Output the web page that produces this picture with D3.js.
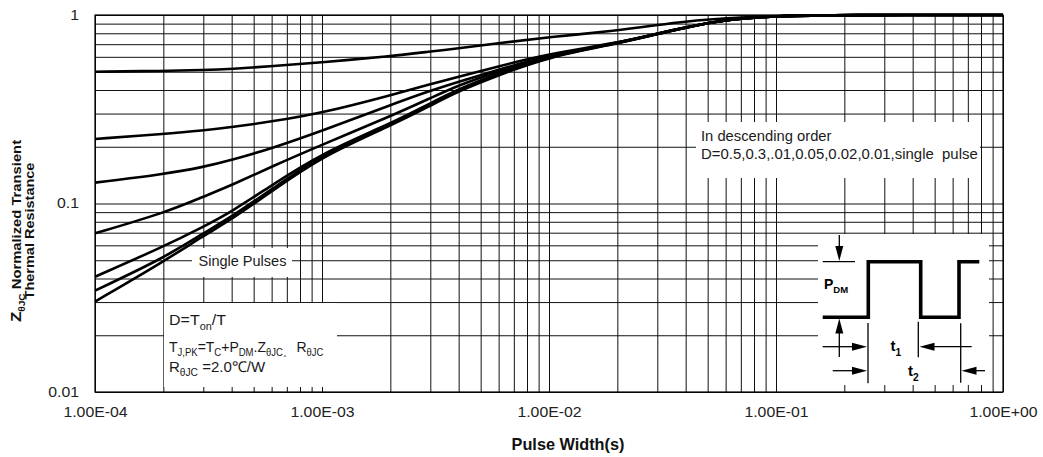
<!DOCTYPE html>
<html>
<head>
<meta charset="utf-8">
<script src="https://cdn.jsdelivr.net/npm/d3@7/dist/d3.min.js"></script>
<style>
  body { margin: 0; background: #fff; }
  svg { display: block; font-family: "Liberation Sans", Arial, sans-serif; }
  text { white-space: pre; }
</style>
</head>
<body>
<svg id="chart" width="1043" height="457"></svg>
<script>
// Pulse widths (s) at which the curves are sampled
const pulseWidth = [1e-4, 2e-4, 3e-4, 4e-4, 6e-4, 1e-3, 2e-3, 3e-3, 4e-3, 6e-3,
                    1e-2, 2e-2, 3e-2, 4e-2, 6e-2, 1e-1, 2e-1, 1];

// Normalized transient thermal resistance for each duty cycle
const zD050  = [0.500, 0.505, 0.510, 0.517, 0.535, 0.560, 0.605, 0.640, 0.665, 0.710, 0.762, 0.828, 0.885, 0.925, 0.962, 0.990, 1.0, 1.0];
const zD030  = [0.220, 0.234, 0.244, 0.254, 0.272, 0.302, 0.375, 0.430, 0.470, 0.535, 0.622, 0.712, 0.797, 0.860, 0.946, 0.990, 1.0, 1.0];
const zD010  = [0.129, 0.143, 0.156, 0.170, 0.196, 0.243, 0.333, 0.397, 0.443, 0.513, 0.612, 0.710, 0.795, 0.860, 0.946, 0.990, 1.0, 1.0];
const zD005  = [0.0695, 0.0887, 0.1087, 0.125, 0.157, 0.205, 0.290, 0.362, 0.425, 0.503, 0.610, 0.710, 0.795, 0.860, 0.946, 0.990, 1.0, 1.0];
const zD002  = [0.0409, 0.0590, 0.0753, 0.0905, 0.125, 0.185, 0.265, 0.340, 0.405, 0.490, 0.607, 0.708, 0.794, 0.859, 0.945, 0.990, 1.0, 1.0];
const zD001  = [0.0345, 0.0512, 0.0695, 0.0851, 0.119, 0.182, 0.262, 0.335, 0.400, 0.485, 0.604, 0.707, 0.793, 0.858, 0.945, 0.990, 1.0, 1.0];
const zSingle = [0.0302, 0.0491, 0.0673, 0.0824, 0.116, 0.178, 0.258, 0.330, 0.395, 0.480, 0.600, 0.705, 0.792, 0.857, 0.945, 0.990, 1.0, 1.0];

const seriesNames = ["D=0.5", "D=0.3", "D=0.1", "D=0.05", "D=0.02", "D=0.01", "Single pulse"];
const seriesValues = [zD050, zD030, zD010, zD005, zD002, zD001, zSingle];

// Axis ticks
const xTickValues = [1e-4, 1e-3, 1e-2, 1e-1, 1];
const xTickLabels = ["1.00E-04", "1.00E-03", "1.00E-02", "1.00E-01", "1.00E+00"];
const yTickValues = [0.01, 0.1, 1];
const yTickLabels = ["0.01", "0.1", "1"];

const svg = d3.select("#chart");
const plot = { left: 95, top: 15, right: 1003, bottom: 392 };

const x = d3.scaleLog().domain([1e-4, 1]).range([plot.left, plot.right]);
const y = d3.scaleLog().domain([0.01, 1]).range([plot.bottom, plot.top]);

// ---- grid (decade + 2..9 minor lines) ----
const grid = svg.append("g").attr("class", "grid");
grid.append("g")
  .attr("transform", `translate(0,${plot.bottom})`)
  .call(d3.axisBottom(x).tickValues(x.ticks()).tickSize(-(plot.bottom - plot.top)).tickFormat(""))
  .call(g => g.select(".domain").remove());
grid.append("g")
  .attr("transform", `translate(${plot.left},0)`)
  .call(d3.axisLeft(y).tickValues(y.ticks()).tickSize(-(plot.right - plot.left)).tickFormat(""))
  .call(g => g.select(".domain").remove());
grid.selectAll("line").attr("stroke", "#111").attr("stroke-width", 1);

// ---- white text panels laid over the grid ----
const panels = svg.append("g");
function panel(x0, y0, x1, y1) {
  panels.append("rect").attr("x", x0).attr("y", y0)
    .attr("width", x1 - x0).attr("height", y1 - y0).attr("fill", "#fff");
}
panel(696, 122, 980, 178);   // legend note
panel(192, 248, 292, 277);   // "Single Pulses"
panel(164, 303, 337, 387);   // formula block
panel(818, 234, 989, 385);   // pulse waveform inset

// ---- plot frame ----
svg.append("rect")
  .attr("x", plot.left).attr("y", plot.top)
  .attr("width", plot.right - plot.left).attr("height", plot.bottom - plot.top)
  .attr("fill", "none").attr("stroke", "#000").attr("stroke-width", 1.2);

// ---- curves ----
const line = d3.line()
  .x((d, i) => x(pulseWidth[i]))
  .y(d => y(d))
  .curve(d3.curveBasis);

svg.append("g").selectAll("path")
  .data(seriesValues)
  .join("path")
  .attr("d", line)
  .attr("fill", "none")
  .attr("stroke", "#000")
  .attr("stroke-width", 2.6)
  .attr("stroke-linejoin", "round")
  .append("title").text((d, i) => seriesNames[i]);

// ---- tick labels ----
const TICK_STRETCH = 1.13;
svg.append("g")
  .attr("transform", `translate(0,${plot.bottom})`)
  .call(d3.axisBottom(x).tickValues(xTickValues).tickSize(0).tickPadding(15)
        .tickFormat((d, i) => xTickLabels[i]))
  .call(g => g.select(".domain").remove())
  .call(g => g.selectAll("text")
        .attr("font-size", 14).attr("fill", "#222")
        .attr("font-family", "Liberation Sans, Arial, sans-serif")
        .attr("transform", `scale(${TICK_STRETCH},1)`));

svg.append("g")
  .attr("transform", `translate(${plot.left},0)`)
  .call(d3.axisLeft(y).tickValues(yTickValues).tickSize(0).tickPadding(14.2)
        .tickFormat((d, i) => yTickLabels[i]))
  .call(g => g.select(".domain").remove())
  .call(g => g.selectAll("text")
        .attr("font-size", 14).attr("fill", "#222")
        .attr("font-family", "Liberation Sans, Arial, sans-serif")
        .attr("transform", `scale(${TICK_STRETCH},1)`));

// ---- rich text helper: parts are [string, "n" | "s"] (normal / subscript) ----
function richText(px, py, parts, opt) {
  const fs = opt.size || 14;
  const g = svg.append("g").attr("transform", `translate(${px},${py}) rotate(${opt.rotate || 0})`);
  const t = g.append("text")
    .attr("text-anchor", opt.anchor || "start")
    .attr("font-size", fs)
    .attr("font-weight", opt.bold ? "bold" : "normal")
    .attr("fill", opt.fill || "#1a1a1a");
  let shift = 0;
  parts.forEach(([s, kind, sizeOverride]) => {
    const sub = kind === "s";
    const target = sub ? fs * 0.3 : 0;
    const ts = t.append("tspan").text(s)
      .attr("font-size", sizeOverride || (sub ? fs * 0.68 : fs));
    if (target !== shift) { ts.attr("dy", target - shift); shift = target; }
  });
  if (opt.width) {
    const w = t.node().getBBox().width;
    if (w > 0) t.attr("transform", `scale(${opt.width / w},1)`);
  }
  return t;
}

// Axis titles
richText(568, 450, [["Pulse Width(s)", "n"]], { size: 16, bold: true, anchor: "middle", width: 113, fill: "#111" });
richText(21, 231, [["Z", "n", 15], ["θJC", "s"], [" Normalized Transient", "n"]],
         { size: 13, bold: true, anchor: "middle", rotate: -90, width: 183, fill: "#111" });
richText(33.5, 231, [["Thermal Resistance", "n"]],
         { size: 13, bold: true, anchor: "middle", rotate: -90, width: 137, fill: "#111" });

// Legend note
richText(701, 141, [["In descending order", "n"]], { size: 14, width: 131 });
richText(701, 159, [["D=0.5,0.3,.01,0.05,0.02,0.01,single  pulse", "n"]], { size: 14, width: 277 });

// Single-pulse callout
richText(198.5, 265.5, [["Single Pulses", "n"]], { size: 14, width: 88 });

// Formula block
richText(169, 325, [["D=T", "n"], ["on", "s"], ["/T", "n"]], { size: 15, width: 57 });
richText(169, 351.5, [["T", "n"], ["J,PK", "s"], ["=T", "n"], ["C", "s"], ["+P", "n"], ["DM", "s"],
                      [".Z", "n"], ["θJC。", "s"], [" R", "n"], ["θJC", "s"]], { size: 15, width: 154 });
richText(169, 371.5, [["R", "n"], ["θJC", "s"], [" =2.0℃/W", "n"]], { size: 15, width: 97 });

// ---- pulse waveform inset ----
const inset = svg.append("g").attr("stroke", "#000").attr("fill", "none");
const wave = [[822.7, 317.3], [868.3, 317.3], [868.3, 261.7], [920.7, 261.7],
              [920.7, 317.3], [959, 317.3], [959, 261.7], [979.3, 261.7]];
inset.append("path").attr("d", d3.line()(wave)).attr("stroke-width", 3.6).attr("stroke-linejoin", "miter");

function seg(x1, y1, x2, y2) {
  inset.append("line").attr("x1", x1).attr("y1", y1).attr("x2", x2).attr("y2", y2).attr("stroke-width", 1.3);
}
function head(tx, ty, dir) {
  // filled arrowhead, tip at (tx,ty), dir: "r","l","u","d"
  const L = 15, W = 4;
  let pts;
  if (dir === "r") pts = [[tx, ty], [tx - L, ty - W], [tx - L, ty + W]];
  if (dir === "l") pts = [[tx, ty], [tx + L, ty - W], [tx + L, ty + W]];
  if (dir === "d") pts = [[tx, ty], [tx - W, ty - L], [tx + W, ty - L]];
  if (dir === "u") pts = [[tx, ty], [tx - W, ty + L], [tx + W, ty + L]];
  inset.append("path").attr("d", d3.line()(pts) + "Z").attr("fill", "#000").attr("stroke", "none");
}

seg(822.7, 261.7, 855, 261.7);          // peak reference
seg(839.3, 235, 839.3, 247); head(839.3, 261, "d");
seg(839.3, 332, 839.3, 357); head(839.3, 318.5, "u");
seg(868, 323, 868, 383.3);
seg(918.3, 321.7, 918.3, 357.3);
seg(960.7, 323.3, 960.7, 382.7);
seg(822.7, 346.7, 853, 346.7); head(867, 346.7, "r");
seg(933, 346.7, 971.7, 346.7); head(919.5, 346.7, "l");
seg(832.7, 370.7, 853, 370.7); head(867, 370.7, "r");
seg(975, 370.7, 985, 370.7); head(961.5, 370.7, "l");

richText(824, 289, [["P", "n"], ["DM", "s"]], { size: 14, bold: true, fill: "#000" });
richText(890.5, 351, [["t", "n"], ["1", "s"]], { size: 15, bold: true, fill: "#000" });
richText(908, 376, [["t", "n"], ["2", "s"]], { size: 15, bold: true, fill: "#000" });
</script>
</body>
</html>
